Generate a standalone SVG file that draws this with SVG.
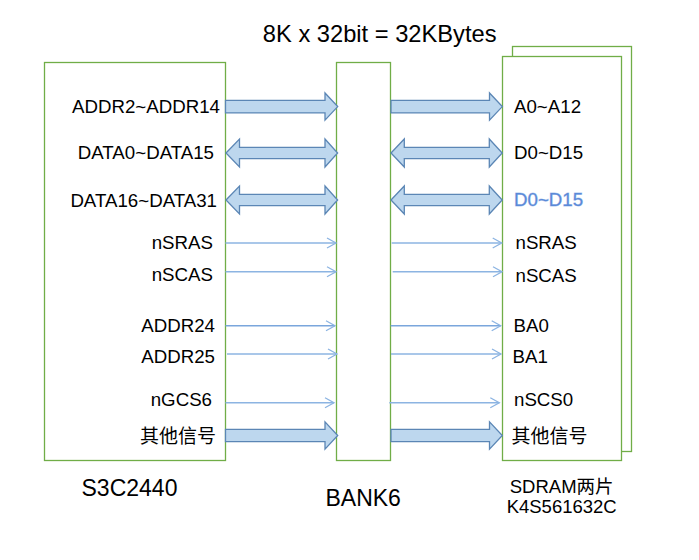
<svg xmlns="http://www.w3.org/2000/svg" width="699" height="560" viewBox="0 0 699 560">
<style>
.box{fill:#fff;stroke:#70ad47;stroke-width:1.3}
.blk{fill:#bdd7ee;stroke:#5b86b5;stroke-width:1.3;stroke-linejoin:miter}
.thin{stroke:#8cb4e2;stroke-width:1.5;fill:none}
text{font-family:"Liberation Sans",Arial,"Noto Sans CJK SC",sans-serif;fill:#000}
.lbl{font-size:18.7px}
.cjk{font-size:19px}
.big{font-size:23px}
.l{text-anchor:end}
</style>
<defs>
<marker id="ah" markerUnits="userSpaceOnUse" markerWidth="12" markerHeight="12" viewBox="0 0 12 12" refX="10" refY="6" orient="auto">
<path d="M1,1 L10,6 L1,11" fill="none" stroke="#8cb4e2" stroke-width="1.3"/>
</marker>
</defs>
<rect x="0" y="0" width="699" height="560" fill="#fff"/>
<text x="379.7" y="42.3" text-anchor="middle" style="font-size:23.7px">8K x 32bit = 32KBytes</text>

<g id="s3c2440">
<rect class="box" x="44.5" y="62.5" width="181" height="398"/>
<text class="lbl l" x="220" y="112.5">ADDR2~ADDR14</text>
<text class="lbl l" x="214" y="159">DATA0~DATA15</text>
<text class="lbl l" x="217" y="206.5">DATA16~DATA31</text>
<text class="lbl l" x="213" y="249">nSRAS</text>
<text class="lbl l" x="213" y="281">nSCAS</text>
<text class="lbl l" x="215" y="331.5">ADDR24</text>
<text class="lbl l" x="215" y="363">ADDR25</text>
<text class="lbl l" x="212" y="405.5">nGCS6</text>
<text class="cjk l" x="216" y="442.5">其他信号</text>
<text class="big" x="129.5" y="495.7" text-anchor="middle">S3C2440</text>
</g>

<g id="bank6">
<rect class="box" x="336.5" y="62.5" width="54" height="398"/>
<text class="big" x="363.2" y="505.7" text-anchor="middle">BANK6</text>
</g>

<g id="sdram">
<rect class="box" x="512.5" y="46.5" width="119" height="405"/>
<rect class="box" x="502.5" y="56.5" width="119" height="404"/>
<text class="lbl" x="514" y="112.5">A0~A12</text>
<text class="lbl" x="514" y="158.7">D0~D15</text>
<text class="lbl" x="514" y="206" style="fill:#5b8ad8;stroke:#b7cdf0;stroke-width:0.8;paint-order:stroke">D0~D15</text>
<text class="lbl" x="515.5" y="248.5">nSRAS</text>
<text class="lbl" x="515.5" y="281.5">nSCAS</text>
<text class="lbl" x="513.5" y="331.5">BA0</text>
<text class="lbl" x="512.5" y="363">BA1</text>
<text class="lbl" x="514" y="405.5">nSCS0</text>
<text class="cjk" x="511.5" y="442.5">其他信号</text>
<text class="lbl" x="561.7" y="493.3" text-anchor="middle" style="font-size:18.5px">SDRAM两片</text>
<text class="lbl" x="561.7" y="513.3" text-anchor="middle" style="font-size:18.5px">K4S561632C</text>
</g>

<g id="connectors">
<polygon class="blk" points="225.5,100.3 325,100.3 325,93 337.7,106.6 325,120.2 325,112.9 225.5,112.9"/>
<polygon class="blk" points="226,153 239.5,139 239.5,147.4 325,147.4 325,139 337.6,153 325,167 325,158.6 239.5,158.6 239.5,167"/>
<polygon class="blk" points="226,200 239.5,186 239.5,194.4 325,194.4 325,186 337.6,200 325,214 325,205.6 239.5,205.6 239.5,214"/>
<polygon class="blk" points="225.5,429.3 325,429.3 325,421.8 337.7,435.5 325,449.2 325,441.7 225.5,441.7"/>
<polygon class="blk" points="391,100.3 489.5,100.3 489.5,93 502.3,106.6 489.5,120.2 489.5,112.9 391,112.9"/>
<polygon class="blk" points="391,153 404.3,139 404.3,147.4 489.3,147.4 489.3,139 502.2,153 489.3,167 489.3,158.6 404.3,158.6 404.3,167"/>
<polygon class="blk" points="391,200 404.3,186 404.3,194.4 489.3,194.4 489.3,186 502.2,200 489.3,214 489.3,205.6 404.3,205.6 404.3,214"/>
<polygon class="blk" points="391,429.3 489.5,429.3 489.5,421.8 502.3,435.5 489.5,449.2 489.5,441.7 391,441.7"/>
<line class="thin" x1="225.5" y1="243" x2="336" y2="243" marker-end="url(#ah)"/>
<line class="thin" x1="225.5" y1="271.7" x2="336" y2="271.7" marker-end="url(#ah)"/>
<line class="thin" x1="225.5" y1="325.7" x2="335" y2="325.7" marker-end="url(#ah)" style="stroke:#7aa6dc"/>
<line class="thin" x1="227" y1="354" x2="337" y2="354" marker-end="url(#ah)"/>
<line class="thin" x1="225.5" y1="402.7" x2="334" y2="402.7" marker-end="url(#ah)"/>
<line class="thin" x1="391.7" y1="243" x2="501.7" y2="243" marker-end="url(#ah)"/>
<line class="thin" x1="392.7" y1="271.7" x2="502" y2="271.7" marker-end="url(#ah)"/>
<line class="thin" x1="390.7" y1="325.7" x2="500.7" y2="325.7" marker-end="url(#ah)" style="stroke:#7aa6dc"/>
<line class="thin" x1="391" y1="354" x2="501" y2="354" marker-end="url(#ah)"/>
<line class="thin" x1="389.3" y1="402.7" x2="499.3" y2="402.7" marker-end="url(#ah)"/>
</g>
</svg>
